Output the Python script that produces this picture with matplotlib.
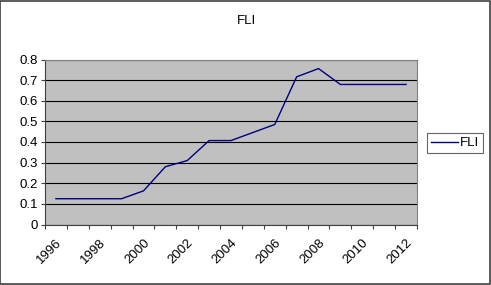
import matplotlib
matplotlib.use("Agg")
import matplotlib.pyplot as plt
from matplotlib.patches import Rectangle
import numpy as np

years = list(range(1996, 2013))
fli = [0.125, 0.125, 0.125, 0.125, 0.163, 0.28, 0.31, 0.407, 0.407, 0.446,
       0.485, 0.716, 0.756, 0.679, 0.679, 0.679, 0.679]
yticks = [0, 0.1, 0.2, 0.3, 0.4, 0.5, 0.6, 0.7, 0.8]

FS = 9.5
plt.rcParams['font.family'] = ['Liberation Sans', 'DejaVu Sans']
fig = plt.figure(figsize=(4.91, 2.85), dpi=100)
fig.patch.set_facecolor('white')
fig.patches.append(Rectangle((0.001, 0.002), 0.997, 0.995, transform=fig.transFigure,
                             fill=False, edgecolor='#404040', linewidth=1.2))

ax = fig.add_axes([45/491, 1-224.5/285, 372/491, 165/285])
ax.set_facecolor('#C0C0C0')
x = np.arange(len(years))
ax.plot(x, fli, color='#000080', linewidth=1.0, label='FLI', zorder=3)

ax.set_xlim(-0.5, len(years) - 0.5)
ax.set_ylim(0, 0.8)
ax.set_yticks(yticks)
ax.set_yticklabels(['0' if v == 0 else f'{v:.1f}' for v in yticks], fontsize=FS)
ax.yaxis.grid(True, color='#000000', linewidth=0.8)
ax.set_axisbelow(True)

ax.set_xticks(np.arange(-0.5, len(years)), labels=[''] * (len(years) + 1))
ax.set_xticks(x[::2], labels=[str(y) for y in years[::2]], minor=True)
ax.tick_params(axis='x', which='major', length=3, color='#404040', width=0.8, direction='out')
ax.tick_params(axis='x', which='minor', length=0, pad=9)
ax.tick_params(axis='y', length=3, color='#404040', width=0.8, pad=2)
for lbl in ax.get_xticklabels(minor=True):
    lbl.set_rotation(45)
    lbl.set_ha('right')
    lbl.set_rotation_mode('anchor')
    lbl.set_fontsize(FS)

for s in ['top', 'right']:
    ax.spines[s].set_color('#808080')
    ax.spines[s].set_linewidth(0.8)
for s in ['left', 'bottom']:
    ax.spines[s].set_color('#404040')
    ax.spines[s].set_linewidth(0.8)

fig.text(247/491, 1-21/285, 'FLI', ha='center', va='center', fontsize=FS)

leg = fig.legend(loc='center', bbox_to_anchor=(455/491, 1-143/285), frameon=True,
                 fancybox=False, fontsize=FS, handlelength=2.0, handletextpad=0.15,
                 borderpad=0.3, borderaxespad=0)
leg.get_frame().set_edgecolor('#404040')
leg.get_frame().set_linewidth(0.8)

fig.savefig('out.png', dpi=100)
